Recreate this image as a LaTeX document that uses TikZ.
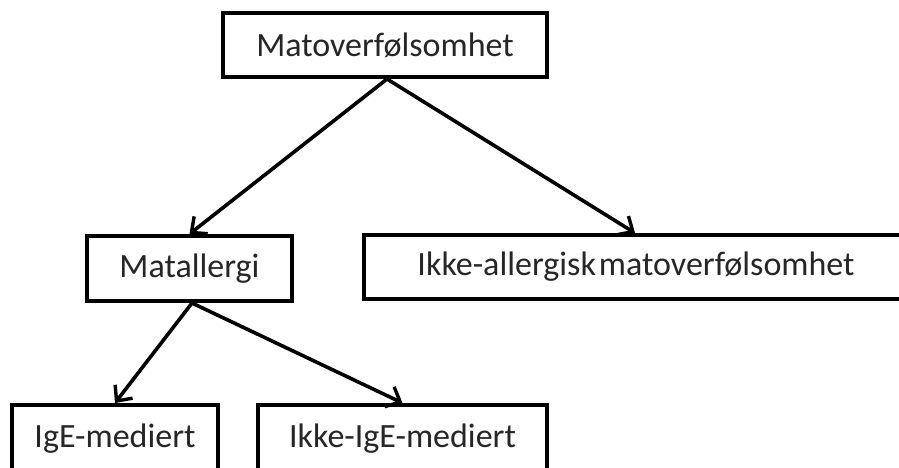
\documentclass[tikz,border=0pt]{standalone}
\usepackage{fontspec}
\setmainfont{Carlito}
\usetikzlibrary{arrows.meta}
\begin{document}
\begin{tikzpicture}[x=1pt,y=-1pt,
  box/.style={draw=black,line width=4pt,fill=white,inner sep=0pt,font=\fontsize{34}{40}\selectfont,text=black!85},
  conn/.style={line width=3.6pt,-{Straight Barb[length=12pt,width=22pt,line width=3.4pt]}}]
\useasboundingbox (0,0) rectangle (899,467);
\clip (0,0) rectangle (899,467);
\fill[white] (0,0) rectangle (899,467);
\node[box,minimum width=324pt,minimum height=64pt] (top) at (385,45) {Matoverfølsomhet};
\node[box,minimum width=205pt,minimum height=65pt] (mat) at (189.5,268.5) {Matallergi};
\node[box,minimum width=541pt,minimum height=64pt] (ikke) at (634.5,267) {};
\node[font=\fontsize{34}{40}\selectfont,text=black!85] (ikkelbl) at (636,267) {Ikke-allergisk\hspace{3pt}matoverfølsomhet};
\node[box,minimum width=206pt,minimum height=68pt] (ige) at (115,439) {IgE-mediert};
\node[box,minimum width=289pt,minimum height=68pt] (nige) at (402.5,439) {Ikke-IgE-mediert};
\coordinate (topout) at (387,79);
\coordinate (matout) at (192,303);
\coordinate (ikketip) at (635,233);
\draw[conn] (topout) -- (mat.north);
\draw[conn] (topout) -- (ikketip);
\draw[conn] (matout) -- (ige.north);
\draw[conn] (matout) -- (nige.north);
\end{tikzpicture}
\end{document}
